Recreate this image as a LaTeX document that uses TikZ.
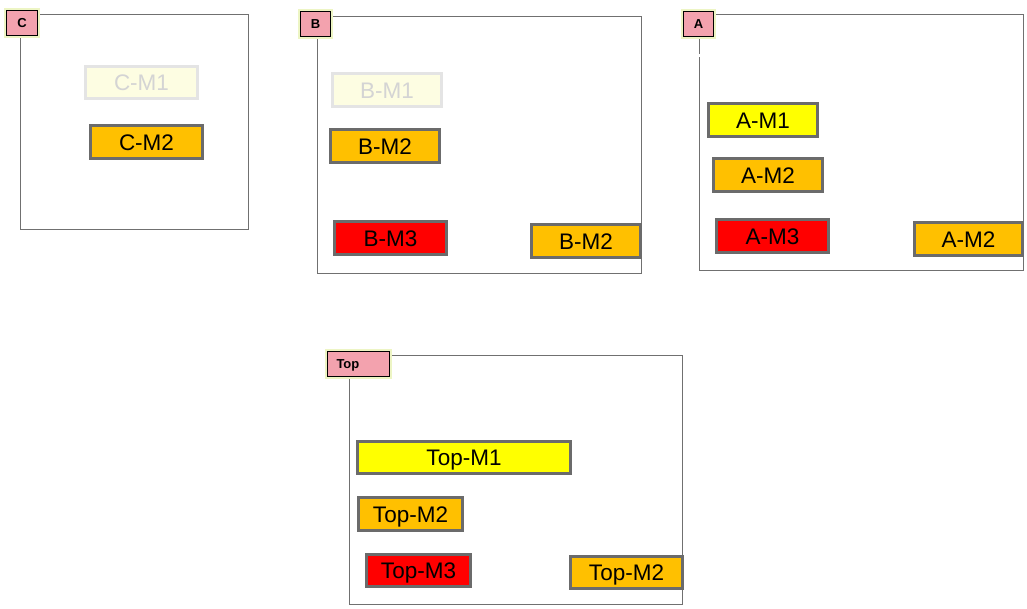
\documentclass[tikz,border=0pt]{standalone}
\usepackage{fontspec}
\setmainfont{Liberation Sans}
\definecolor{morange}{HTML}{FFC000}
\definecolor{mred}{HTML}{FF0000}
\definecolor{myellow}{HTML}{FFFF00}
\definecolor{mborder}{HTML}{6B6B6B}
\definecolor{frameline}{HTML}{707070}
\definecolor{fadefill}{HTML}{FDFDE2}
\definecolor{fadeborder}{HTML}{E4E4E4}
\definecolor{fadetext}{HTML}{D4D4D4}
\definecolor{lblpink}{HTML}{F3A2AE}
\definecolor{glow}{HTML}{EDF5C4}
\tikzset{
  mbox/.style={draw=mborder, line width=3pt, inner sep=0pt, font=\fontsize{22.5}{22.5}\selectfont,
    text height=16.1pt, text depth=0pt, minimum height=33pt},
  orangebox/.style={mbox, fill=morange},
  redbox/.style={mbox, fill=mred},
  yellowbox/.style={mbox, fill=myellow},
  fadebox/.style={mbox, draw=fadeborder, fill=fadefill, text=fadetext},
  lbl/.style={draw=black, line width=1pt, fill=lblpink, inner sep=0pt, font=\fontsize{13}{13}\selectfont\bfseries,
    text height=9.3pt, text depth=0pt, minimum height=25pt,
    preaction={draw=glow, line width=5pt}},
  frame/.style={draw=frameline, line width=1pt}
}
\begin{document}
\begin{tikzpicture}[x=1pt,y=-1pt]
\useasboundingbox (0,0) rectangle (1027,608);
% frames
\draw[frame] (20,14) rectangle (248,229);
\draw[frame] (317,16) rectangle (641,273);
\draw[frame] (699,54) -- (699,14) -- (1023,14) -- (1023,270) -- (699,270) -- (699,57);
\draw[frame] (349,355) rectangle (682,604);
% labels
\node[lbl, minimum width=31pt] (lc) at (22,22.5) {C};
\node[lbl, minimum width=30pt] (lb) at (315.5,24) {B};
\node[lbl, minimum width=30pt] (la) at (698.5,23.5) {A};
\node[lbl, text width=44pt, align=left, inner xsep=9pt] (ltop) at (358.5,363.5) {Top};
% C
\node[fadebox, minimum width=112pt, minimum height=32pt] (cm1) at (141.5,82.5) {C-M1};
\node[orangebox, minimum width=112pt] (cm2) at (146.5,142) {C-M2};
% B
\node[fadebox, minimum width=109pt] (bm1) at (387,90) {B-M1};
\node[orangebox, minimum width=109pt] (bm2) at (385,146) {B-M2};
\node[redbox, minimum width=112pt] (bm3) at (390.5,238) {B-M3};
\node[orangebox, minimum width=109pt] (bm2b) at (586,241) {B-M2};
% A
\node[yellowbox, minimum width=109pt] (am1) at (763,120) {A-M1};
\node[orangebox, minimum width=109pt] (am2) at (768,175) {A-M2};
\node[redbox, minimum width=112pt] (am3) at (772.5,236) {A-M3};
\node[orangebox, minimum width=108pt] (am2b) at (968.5,239) {A-M2};
% Top
\node[yellowbox, minimum width=213pt, minimum height=32pt] (tm1) at (464,457.5) {Top-M1};
\node[orangebox, minimum width=104pt] (tm2) at (410.5,514) {Top-M2};
\node[redbox, minimum width=104pt, minimum height=32pt] (tm3) at (418.5,570.5) {Top-M3};
\node[orangebox, minimum width=112pt, minimum height=32pt] (tm2b) at (626.5,572.5) {Top-M2};
\end{tikzpicture}
\end{document}
